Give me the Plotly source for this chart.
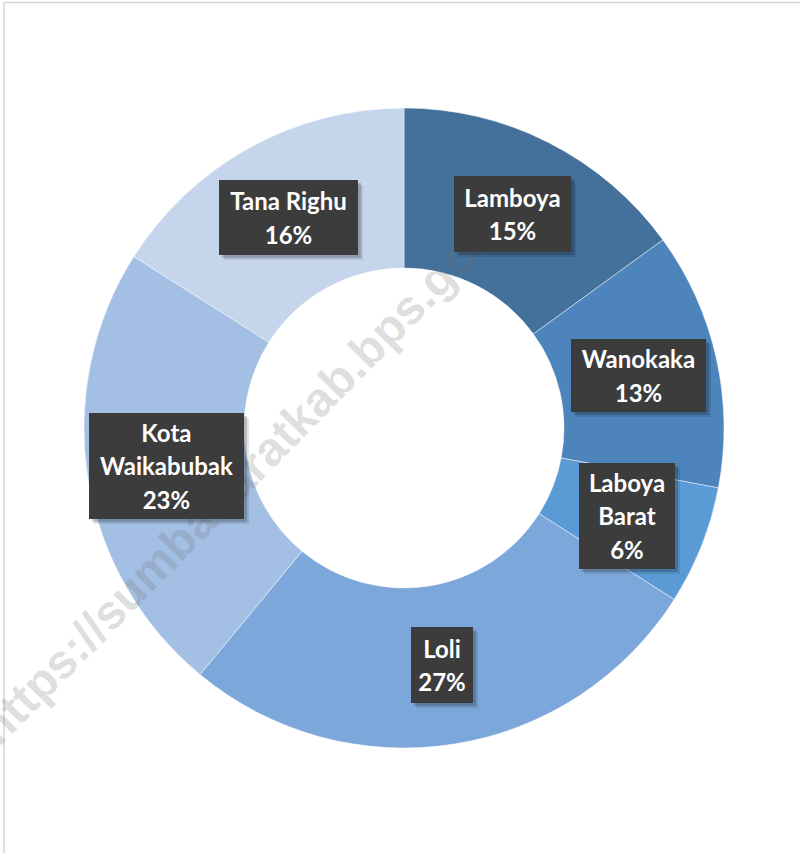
import math
import plotly.graph_objects as go

# ---- data ----
categories = ["Lamboya", "Wanokaka", "Laboya Barat", "Loli", "Kota Waikabubak", "Tana Righu"]
values = [15, 13, 6, 27, 23, 16]
colors = ["#43719c", "#4d84bc", "#5b9bd5", "#7ca7da", "#a3bfe4", "#c5d5ec"]
label_wrap = {"Laboya Barat": "Laboya<br>Barat", "Kota Waikabubak": "Kota<br>Waikabubak"}
watermark = "https://sumbabaratkab.bps.go.id"

# ---- layout constants (pixels) ----
W, H = 800, 853
CX, CY, R = 404, 428, 320
HOLE = 0.5
LABEL_R = 240
box_sizes = {"Lamboya": (117, 76), "Wanokaka": (135, 73), "Laboya Barat": (96, 106),
             "Loli": (62, 76), "Kota Waikabubak": (155, 106), "Tana Righu": (139, 75)}

fig = go.Figure()
fig.add_trace(go.Pie(
    labels=categories, values=values, hole=HOLE, sort=False, direction="clockwise",
    rotation=0, textinfo="none", showlegend=False,
    marker=dict(colors=colors, line=dict(color="rgba(255,255,255,0.45)", width=1)),
    domain=dict(x=[(CX - R) / W, (CX + R) / W], y=[(H - CY - R) / H, (H - CY + R) / H]),
))

annotations = []
# watermark
annotations.append(dict(
    text=watermark, x=246 / W, y=1 - 472 / H, xref="paper", yref="paper",
    showarrow=False, textangle=-45.5, xanchor="center", yanchor="middle",
    font=dict(family="Liberation Sans, Arial", size=48, color="rgba(110,110,110,0.22)", weight="bold"),
))

total = sum(values)
cum = 0
for name, v in zip(categories, values):
    mid = (cum + v / 2) / total * 2 * math.pi
    cum += v
    px = CX + LABEL_R * math.sin(mid)
    py = CY - LABEL_R * math.cos(mid)
    pct = round(v / total * 100)
    lines = label_wrap.get(name, name).split("<br>") + [f"{pct}%"]
    txt = "<br>".join(f"<span style='font-size:24px'>{ln}</span>" for ln in lines)
    bw, bh = box_sizes[name]
    for dx, dy, col in [(5, -5, "rgba(0,0,0,0.10)"), (3, -3, "rgba(0,0,0,0.18)")]:
        annotations.append(dict(
            text="", x=px / W, y=1 - py / H, xref="paper", yref="paper", showarrow=False,
            width=bw, height=bh, bgcolor=col, borderpad=0, borderwidth=0,
            xshift=dx, yshift=dy, xanchor="center", yanchor="middle",
        ))
    annotations.append(dict(
        text=txt, x=px / W, y=1 - py / H, xref="paper", yref="paper", showarrow=False,
        width=bw, height=bh, bgcolor="#3c3c3c", borderpad=0, borderwidth=0,
        align="center", valign="middle", xanchor="center", yanchor="middle",
        font=dict(family="Lato, Open Sans, sans-serif", size=25.4, color="white", weight="bold"),
    ))

shapes = [
    dict(type="line", xref="paper", yref="paper", x0=4 / W, x1=1, y0=1 - 2.5 / H, y1=1 - 2.5 / H,
         line=dict(color="#d4d4d4", width=1.5)),
    dict(type="line", xref="paper", yref="paper", x0=4 / W, x1=4 / W, y0=0, y1=1 - 2.5 / H,
         line=dict(color="#d4d4d4", width=1.5)),
]

fig.update_layout(
    width=W, height=H, margin=dict(l=0, r=0, t=0, b=0),
    paper_bgcolor="white", plot_bgcolor="white",
    annotations=annotations, shapes=shapes,
)

fig.write_html("out.html", config={"displayModeBar": False},
               post_script="document.body.style.margin='0px';document.body.style.overflow='hidden';")
